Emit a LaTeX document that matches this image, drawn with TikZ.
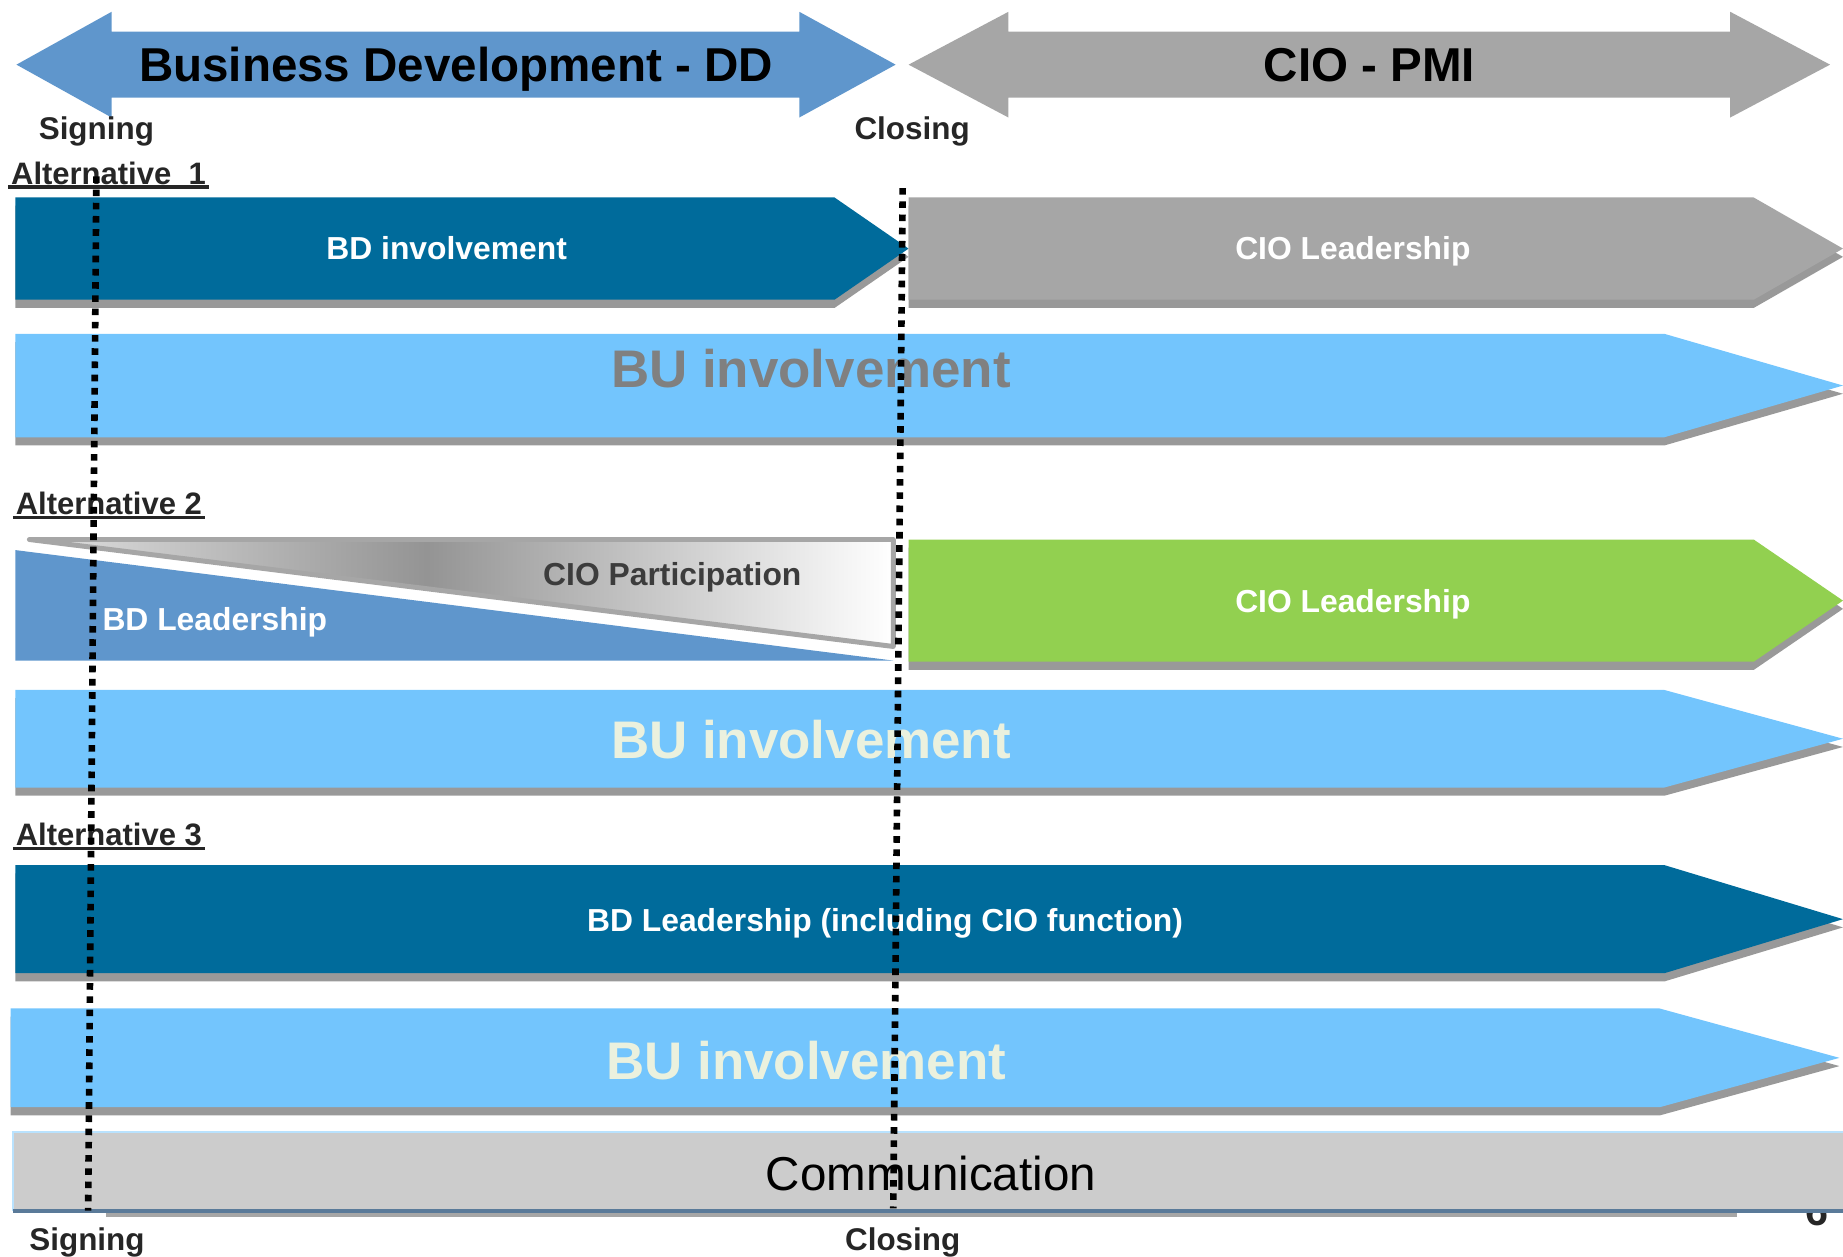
\documentclass[tikz,border=0pt]{standalone}
\usepackage{fontspec}
\setmainfont{Liberation Sans}
\usetikzlibrary{positioning}
\definecolor{bdblue}{RGB}{95,150,204}
\definecolor{bdteal}{RGB}{0,107,155}
\definecolor{buazure}{RGB}{115,197,253}
\definecolor{ciogray}{RGB}{166,166,166}
\definecolor{ciogreen}{RGB}{146,208,80}
\definecolor{dropgray}{RGB}{153,153,153}
\definecolor{paletext}{RGB}{235,241,222}
\definecolor{commgray}{RGB}{204,204,204}
\definecolor{commedge}{RGB}{90,122,153}
\definecolor{labelgray}{RGB}{38,38,38}
\pgfdeclarehorizontalshading{wedgefade}{100bp}{%
  color(0bp)=(black!12); color(25bp)=(black!12); color(48bp)=(black!42);
  color(75bp)=(white); color(100bp)=(white)}

\begin{document}
\begin{tikzpicture}[x=0.01cm, y=-0.01cm,
    every node/.style={inner sep=1pt, text depth=0pt,
                       font=\fontsize{7.7}{9}\selectfont\bfseries},
    phase/.style={font=\fontsize{11.5}{13}\selectfont\bfseries, text=black},
    milestone/.style={text=labelgray, font=\fontsize{7.6}{9}\selectfont\bfseries},
    altlabel/.style={text=labelgray, anchor=west, inner sep=0.5pt,
                     font=\fontsize{7.5}{9}\selectfont\bfseries},
    altline/.style={draw=labelgray, line width=0.8pt},
    bandtext/.style={text=white},
    bigtext/.style={font=\fontsize{12.8}{15}\selectfont\bfseries},
    cutline/.style={line width=1.6pt, dash pattern=on 1.6pt off 1.6pt},
  ]
    \useasboundingbox (0,0) rectangle (1568,1069);
    % phase arrows on top
    \fill[bdblue] (14,55) -- (95,10) -- (95,27) -- (680,27) -- (680,10) -- (762,55)
      -- (680,100) -- (680,83) -- (95,83) -- (95,100) -- cycle;
    \fill[ciogray] (773,55) -- (858,10) -- (858,27) -- (1472,27) -- (1472,10) -- (1557,55)
      -- (1472,100) -- (1472,83) -- (858,83) -- (858,100) -- cycle;
    \node[phase] (dd) at (388,55) {Business Development - DD};
    \node[phase] (pmi) at (1165,55) {CIO - PMI};
    \node[milestone] (sign1) at (82,109) {Signing};
    \node[milestone] (close1) at (776,109) {Closing};
    % chevron bands: left, head start, tip, top, bottom, colour
    \foreach \xa/\xh/\xt/\ya/\yb/\col in {%
      13/710/773/168/255/bdteal, 773/1492/1568/168/255/ciogray,
      13/1416/1568/284/372/buazure, 773/1492/1568/459/563/ciogreen,
      13/1416/1568/587/670/buazure, 13/1416/1568/736/828/bdteal,
      9/1412/1565/858/942/buazure} {
        \fill[dropgray, shift={(0,7)}] (\xa,\ya) -- (\xh,\ya) -- (\xt,{(\ya+\yb)/2})
          -- (\xh,\yb) -- (\xa,\yb) -- cycle;
        \fill[\col] (\xa,\ya) -- (\xh,\ya) -- (\xt,{(\ya+\yb)/2})
          -- (\xh,\yb) -- (\xa,\yb) -- cycle;
      }
    % alternative 2: shared wedge
    \shade[shading=wedgefade] (25,459) -- (760,459) -- (760,550) -- cycle;
    \draw[ciogray, line width=1.2pt, line join=round, line cap=round]
      (25,459) -- (760,459) -- (760,550) -- cycle;
    \fill[bdblue] (13,468) -- (760,562) -- (13,562) -- cycle;
    % row headings
    \node[altlabel] (alt1) at (7,147) {Alternative\ \ 1};
    \node[altlabel] (alt2) at (11,428) {Alternative 2};
    \node[altlabel] (alt3) at (11,710) {Alternative 3};
    \foreach \n in {alt1, alt2, alt3}
      \draw[altline] (\n.south west) -- (\n.south east);
    % band texts
    \node[bandtext] (bdinv) at (380,211) {BD involvement};
    \node[bandtext] (ciolead1) at (1151,211) {CIO Leadership};
    \node[bigtext, text=black!50] (bu1) at (690,313) {BU involvement};
    \node[text=labelgray!90] (ciopart) at (572,488) {CIO Participation};
    \node[bandtext, anchor=west] (bdlead2) at (83,527) {BD Leadership};
    \node[bandtext] (ciolead2) at (1151,511) {CIO Leadership};
    \node[bigtext, text=paletext] (bu2) at (690,629) {BU involvement};
    \node[bandtext] (bdlead3) at (753,783) {BD Leadership (including CIO function)};
    \node[bigtext, text=paletext] (bu3) at (686,902) {BU involvement};
    % communication strip
    \node[font=\fontsize{10}{12}\selectfont\bfseries, text=labelgray] (pageno) at (1546,1030) {6};
    \fill[commgray] (11,963) rectangle (1568,1030);
    \draw[buazure!50, line width=0.6pt] (11,1030) -- (11,963) -- (1568,963);
    \draw[commedge, line width=1pt] (11,1030) -- (1568,1030);
    \draw[ciogray, line width=1pt] (90,1034) -- (1478,1034);
    \node[font=\fontsize{11.5}{13}\selectfont, text=black] (comm) at (792,998) {Communication};
    \node[milestone] (sign2) at (74,1054) {Signing};
    \node[milestone] (close2) at (768,1054) {Closing};
    % signing and closing cut lines
    \coordinate (sigtop) at (82,150);
    \coordinate (sigbot) at (75,1030);
    \coordinate (clotop) at (768,160);
    \coordinate (clobot) at (760,1028);
    \draw[cutline] (sigtop) -- (sigbot);
    \draw[cutline] (clotop) -- (clobot);
  \end{tikzpicture}
\end{document}
